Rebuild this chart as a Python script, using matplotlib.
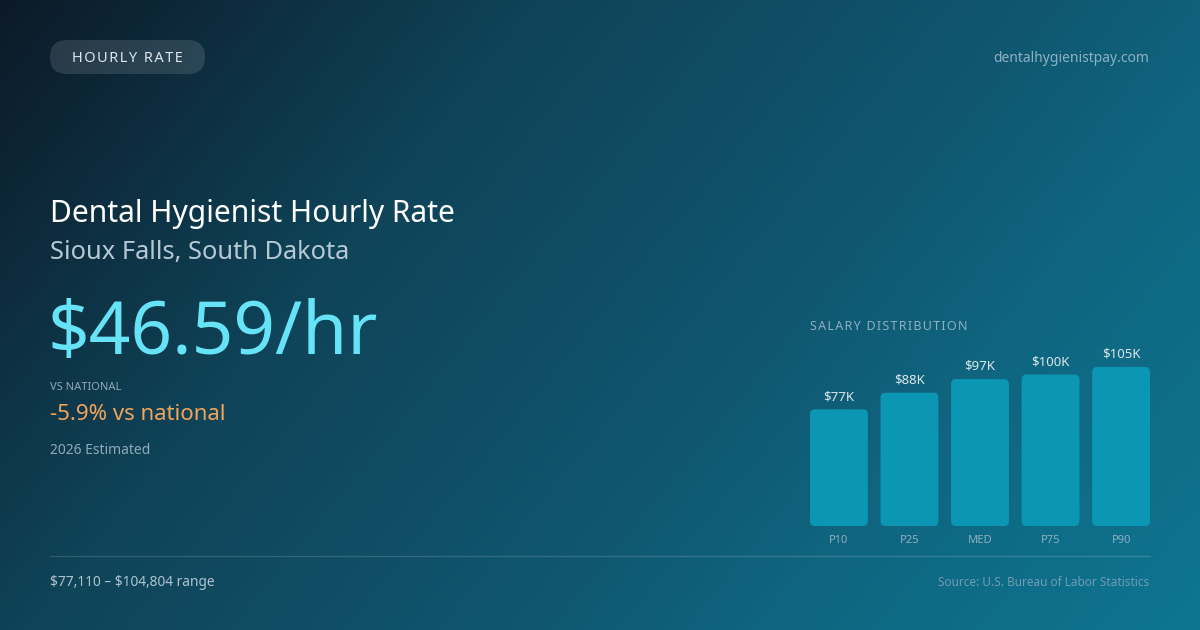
import numpy as np
import matplotlib
matplotlib.use("Agg")
from matplotlib import pyplot as plt
from matplotlib.colors import LinearSegmentedColormap
from matplotlib.patches import FancyBboxPatch

plt.rcParams['font.family'] = ['Noto Sans', 'DejaVu Sans']

# data
labels = ["P10", "P25", "MED", "P75", "P90"]
values = [77, 88, 97, 100, 105]
value_text = [r"\$77K", r"\$88K", r"\$97K", r"\$100K", r"\$105K"]

title = "Dental Hygienist Hourly Rate"
location = "Sioux Falls, South Dakota"
hourly = r"\$46.59/hr"
vs_nat = "-5.9% vs national"
range_text = "\\$77,110 \u2013 \\$104,804 range"


def spaced(s):
    # little bit of letter spacing for the caps labels
    return "\u200a".join(s)


W, H = 1200, 630
fig = plt.figure(figsize=(12, 6.3), dpi=100)

# background gradient, pixel coords with y going down
bg = fig.add_axes([0, 0, 1, 1])
bg.set_xlim(0, W)
bg.set_ylim(H, 0)
bg.axis("off")
xx, yy = np.meshgrid(np.linspace(0, 1, 300), np.linspace(0, 1, 160))
t = 0.7 * xx + 0.3 * yy
cmap = LinearSegmentedColormap.from_list("bg", [
    (0.0, "#0c1a28"), (0.32, "#0f4459"), (0.42, "#0f4a60"),
    (0.6, "#0f5670"), (0.76, "#0f6680"), (1.0, "#0e7591")])
bg.imshow(t, cmap=cmap, extent=[0, W, H, 0], aspect="auto", zorder=0)

# pill
pill = FancyBboxPatch((50, 40), 155, 34, boxstyle="round,pad=0,rounding_size=17",
                      fc="#ffffff", alpha=0.12, ec="none", zorder=1)
bg.add_patch(pill)
bg.text(127, 58, spaced("HOURLY RATE"), color="#dde6ec", fontsize=10.5,
        ha="center", va="center", zorder=2)
bg.text(1149, 58, "dentalhygienistpay.com", color="#8db1c2", fontsize=10,
        ha="right", va="center")

bg.text(50, 214, title, color="#ffffff", fontsize=21.6, ha="left", va="center")
bg.text(50, 252, location, color="#b5c9d4", fontsize=18.3, ha="left", va="center")
bg.text(47, 335, hourly, color="#67e3f7", fontsize=52.5, ha="left", va="center")
bg.text(50, 388, "VS NATIONAL", color="#8eaaba", fontsize=8, ha="left", va="center")
bg.text(50, 414, vs_nat, color="#f2a55a", fontsize=16, ha="left", va="center")
bg.text(50, 450, "2026 Estimated", color="#8eaaba", fontsize=10, ha="left", va="center")

bg.plot([50, 1150], [556, 556], color="#ffffff", alpha=0.15, lw=1)
bg.text(50, 582, range_text, color="#b0c4d0", fontsize=9.9, ha="left", va="center")
bg.text(1149, 582, "Source: U.S. Bureau of Labor Statistics", color="#6f9db2",
        fontsize=8.5, ha="right", va="center")
bg.text(810, 326, spaced("SALARY DISTRIBUTION"), color="#8fb0c0", fontsize=9,
        ha="left", va="center")

# bar chart
ax = fig.add_axes([810 / W, 104 / H, 340 / W, 159 / H])
ax.patch.set_alpha(0)
x = np.arange(len(values))
bars = ax.bar(x, values, width=0.82, color="#0b97b4")
ax.set_xlim(-0.41, len(values) - 0.59)
ax.set_ylim(0, 105)
# round off the bar corners
asp = (105 / 159) / (4.82 / 340)
for b in bars:
    bx, by = b.get_x(), b.get_y()
    bw, bh = b.get_width(), b.get_height()
    b.set_visible(False)
    ax.add_patch(FancyBboxPatch((bx, by), bw, bh,
                                boxstyle="round,pad=0,rounding_size=0.07",
                                mutation_aspect=asp, fc="#0b97b4", ec="none"))
for xi, v, s in zip(x, values, value_text):
    ax.annotate(s, (xi, v), xytext=(0, 4.5), textcoords="offset points",
                ha="center", va="bottom", color="#dbe6ec", fontsize=9.5, clip_on=False)
ax.set_xticks(x)
ax.set_xticklabels(labels, color="#8fb0c0", fontsize=8)
ax.tick_params(axis="x", length=0, pad=6.5)
ax.set_yticks([])
for sp in ax.spines.values():
    sp.set_visible(False)

fig.savefig("out.png", dpi=100)
